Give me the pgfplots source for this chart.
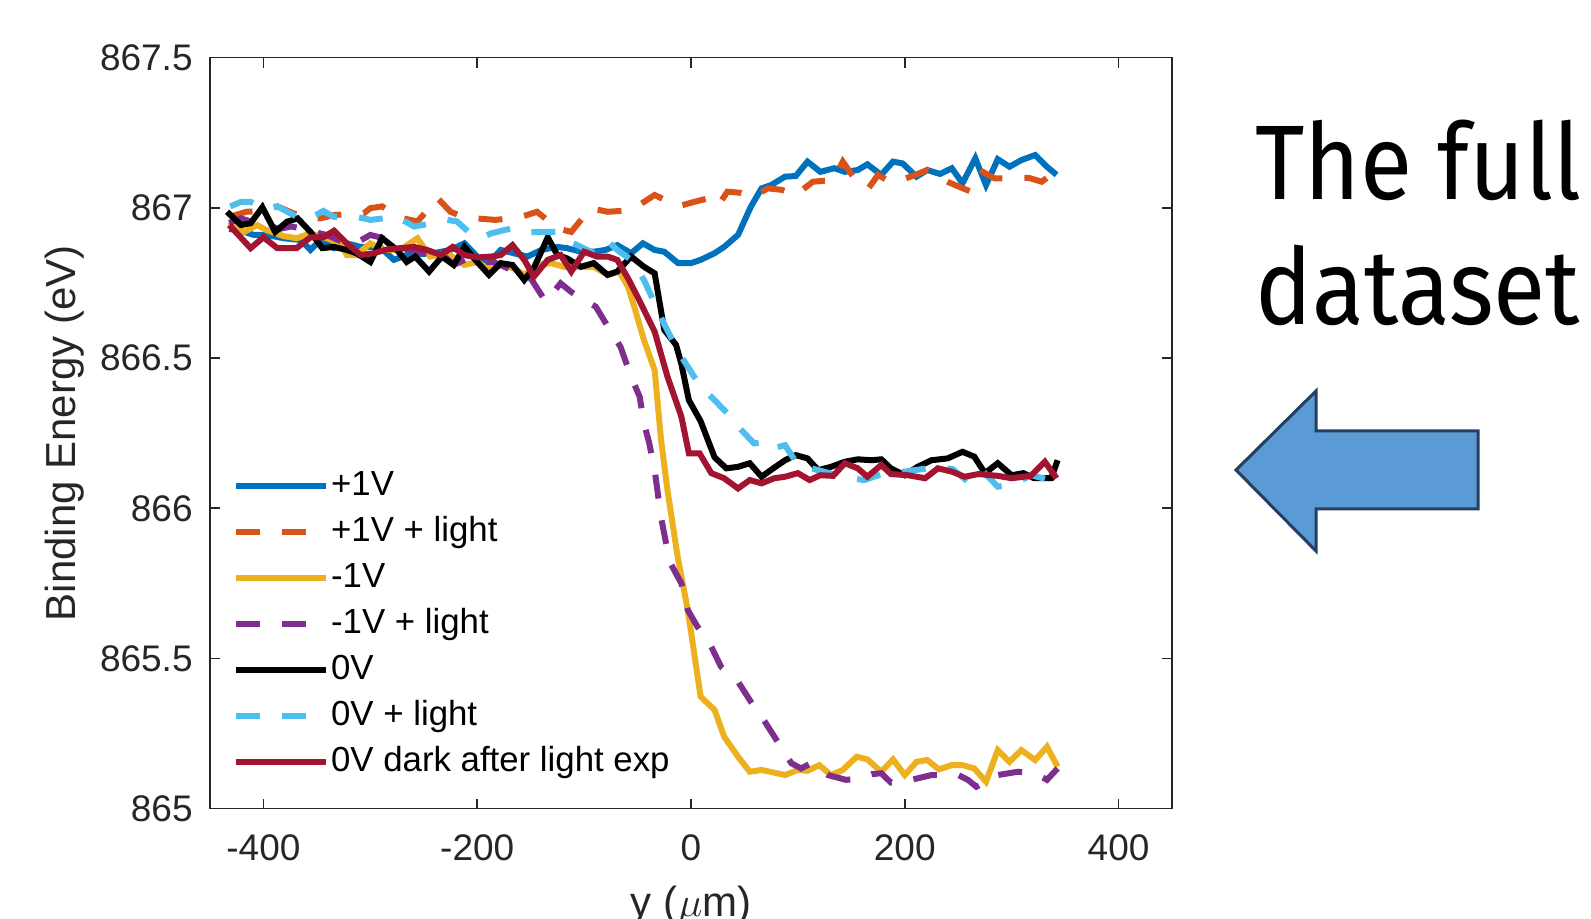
\documentclass[border=0pt]{standalone}
\usepackage{pgfplots}
\pgfplotsset{compat=1.18}
\usepackage{fontspec}
\setmainfont{Liberation Sans}
\newfontfamily\slidefont[FakeStretch=0.9]{Fira Sans}
\definecolor{c1}{HTML}{0072BD}
\definecolor{c2}{HTML}{D95319}
\definecolor{c3}{HTML}{EDB120}
\definecolor{c4}{HTML}{7E2F8E}
\definecolor{c5}{HTML}{000000}
\definecolor{c6}{HTML}{4DBEEE}
\definecolor{c7}{HTML}{A2142F}
\definecolor{axgray}{HTML}{262626}
\definecolor{arrowfill}{HTML}{5B9BD5}
\definecolor{arrowdraw}{HTML}{243F60}
\begin{document}
\begin{tikzpicture}
\path[use as bounding box] (0,0) rectangle (795.5pt,459.5pt);
\clip (0,0) rectangle (795.5pt,459.5pt);
\begin{axis}[
  at={(105pt,55.15pt)}, anchor=south west,
  scale only axis, width=481pt, height=375.5pt,
  xmin=-450, xmax=450, ymin=865, ymax=867.5,
  scaled ticks=false,
  xtick={-400,-200,0,200,400},
  xticklabels={-400,-200,0,200,400},
  ytick={865,865.5,866,866.5,867,867.5},
  yticklabels={865,865.5,866,866.5,867,867.5},
  tick align=inside, tick pos=both,
  major tick length=5pt,
  axis line style={draw=axgray, line width=0.8pt},
  every tick/.style={draw=axgray, line width=0.8pt},
  tick label style={font=\fontsize{18.5}{20}\selectfont, text=axgray},
  yticklabel style={inner sep=0pt, anchor=east, xshift=-8.5pt},
  xticklabel style={inner sep=0pt, anchor=north, yshift=-12.6pt},
  xlabel={y (\kern0.5pt$\mu$m)},
  ylabel={Binding Energy (eV)},
  label style={font=\fontsize{21}{24}\selectfont, text=axgray},
  xlabel style={at={(axis description cs:0.5,-0.143)}, anchor=base},
  ylabel style={at={(axis description cs:-0.151,0.5)}, anchor=center},
  legend style={at={(axis description cs:0.0236,0.451)}, anchor=north west,
    draw=none, fill=none, inner sep=0pt, row sep=7pt,
    font=\fontsize{17.4}{20}\selectfont,
    nodes={inner sep=0pt, text height=12.5pt, text depth=3.5pt},
    /tikz/every odd column/.append style={column sep=1pt}},
  legend cell align=left,
  legend image code/.code={\draw[#1] (0pt,0pt) -- (45pt,0pt);},
  every axis plot/.append style={line width=3pt, no markers},
  dashpat/.style={dash pattern=on 12pt off 11pt},
]
% +1V
\addplot[c1] table {
-432 866.93
-418 866.920
-409 866.910
-397 866.910
-381 866.899
-365 866.893
-356 866.860
-347 866.893
-334 866.866
-322 866.882
-309 866.870
-291 866.870
-278 866.827
-266 866.843
-241 866.849
-225 866.860
-212 866.882
-200 866.838
-191 866.810
-178 866.860
-166 866.849
-153 866.838
-140 866.860
-125 866.870
-116 866.866
-103 866.854
-91 866.854
-80 866.860
-69 866.876
-56 866.849
-45 866.882
-34 866.860
-25 866.854
-12 866.816
0 866.816
9 866.827
22 866.849
31 866.870
44 866.910
56 867.004
66 867.065
75 867.076
88 867.104
98 867.106
109 867.154
121 867.120
134 867.132
144 867.120
156 867.126
165 867.145
178 867.110
189 867.154
198 867.148
211 867.104
221 867.126
233 867.113
244 867.132
254 867.082
266 867.165
276 867.076
287 867.162
298 867.137
309 867.159
322 867.176
333 867.137
342 867.110
};
\addlegendentry{+1V}
% +1V + light
\addplot[c2, dashpat] table {
-432 866.970
-416 866.987
-400 866.990
-387 867.005
-372 866.982
-360 866.970
-347 866.965
-334 866.976
-320 866.980
-306 866.982
-300 866.999
-289 867.005
-278 866.980
-269 866.965
-256 866.955
-247 866.990
-237 867.032
-225 866.987
-213 866.970
-201 866.965
-183 866.960
-170 866.965
-159 866.970
-144 866.987
-125 866.932
-112 866.920
-94 866.999
-78 866.987
-65 866.990
-53 866.999
-34 867.043
-12 867.005
3 867.020
14 867.030
25 867.005
34 867.054
47 867.050
58 867.037
72 867.065
85 867.060
98 867.043
114 867.087
133 867.093
142 867.154
156 867.082
166 867.065
175 867.110
186 867.087
197 867.093
210 867.110
221 867.126
240 867.087
251 867.070
262 867.054
273 867.120
284 867.098
303 867.098
316 867.100
328 867.087
343 867.126
};
\addlegendentry{+1V + light}
% -1V
\addplot[c3] table {
-432 866.955
-418 866.920
-406 866.943
-397 866.926
-381 866.906
-369 866.899
-356 866.915
-341 866.899
-328 866.882
-322 866.843
-313 866.843
-300 866.882
-288 866.860
-272 866.860
-256 866.899
-244 866.838
-228 866.849
-212 866.810
-200 866.820
-191 866.799
-178 866.810
-166 866.799
-156 866.777
-144 866.810
-131 866.816
-119 866.804
-107 866.804
-91 866.804
-78 866.777
-67 866.788
-59 866.738
-53 866.670
-44 866.560
-34 866.460
-28 866.227
-22 866.060
-12.5 865.839
-3 865.661
9 865.373
22 865.329
31 865.240
44 865.173
55 865.123
66 865.129
88 865.112
100 865.129
109 865.126
120 865.145
131 865.112
142 865.129
155 865.173
165 865.164
178 865.123
189 865.164
200 865.112
211 865.156
221 865.162
232 865.131
244 865.145
254 865.145
265 865.134
276 865.090
287 865.195
298 865.156
309 865.195
322 865.162
333 865.206
343 865.140
};
\addlegendentry{-1V}
% -1V + light
\addplot[c4, dashpat] table {
-432 866.950
-421 866.965
-412 866.955
-397 866.943
-385 866.930
-374 866.938
-365 866.932
-353 866.920
-341 866.910
-328 866.890
-315 866.880
-300 866.910
-288 866.899
-275 866.870
-262 866.860
-250 866.850
-237 866.860
-222 866.810
-210 866.830
-198 866.820
-185 866.820
-172 866.800
-160 866.777
-150 866.766
-136 866.688
-122 866.749
-112 866.720
-103 866.699
-89 866.671
-75 866.588
-66 866.538
-56 866.438
-48 866.371
-44 866.283
-39 866.216
-34 866.127
-28 865.970
-20 865.822
-9 865.750
-3 865.661
6 865.606
19 865.539
28 865.473
44 865.423
56 865.356
69 865.290
81 865.223
94 865.151
103 865.134
112 865.151
128 865.112
145 865.096
157 865.100
169 865.115
178 865.118
187 865.087
196 865.090
206 865.096
225 865.112
250 865.112
259 865.096
267 865.073
287 865.112
306 865.123
322 865.118
333 865.096
343 865.134
};
\addlegendentry{-1V + light}
% 0V
\addplot[c5] table {
-434 866.987
-421 866.943
-412 866.949
-401 867.002
-389 866.920
-378 866.954
-368 866.965
-356 866.920
-345 866.866
-334 866.870
-322 866.860
-313 866.849
-300 866.820
-289 866.899
-275 866.860
-266 866.820
-258 866.838
-245 866.788
-233 866.838
-222 866.810
-212 866.870
-200 866.820
-189 866.777
-178 866.816
-167 866.810
-156 866.760
-147 866.800
-134 866.902
-125 866.843
-116 866.832
-103 866.804
-91 866.816
-78 866.777
-69 866.788
-56 866.838
-44 866.804
-34 866.782
-25 866.594
-14 866.544
-9 866.480
-2 866.360
9 866.290
22 866.170
33 866.133
44 866.138
55 866.150
66 866.105
77 866.133
88 866.160
98 866.177
109 866.166
119 866.127
131 866.138
144 866.155
156 866.163
169 866.160
178 866.163
187 866.133
200 866.110
212 866.138
225 866.160
240 866.166
254 866.188
265 866.172
275 866.117
287 866.150
300 866.110
311 866.117
321 866.100
337 866.100
343 866.160
};
\addlegendentry{0V}
% 0V + light
\addplot[c6, dashpat] table {
-431 867.005
-421 867.020
-412 867.020
-400 867.000
-387 867.005
-375 866.982
-363 866.960
-351 866.976
-344 866.990
-334 866.970
-313 866.970
-300 866.960
-288 866.965
-275 866.970
-259 866.938
-248 866.945
-237 866.955
-228 866.960
-219 866.955
-208 866.920
-198 866.899
-187 866.915
-176 866.925
-167 866.932
-155 866.918
-140 866.920
-125 866.920
-116 866.893
-103 866.870
-91 866.849
-79 866.893
-69 866.860
-56 866.827
-44 866.760
-34 866.682
-27 866.627
-19 866.571
-9 866.505
-3 866.471
9 866.405
22 866.360
34 866.316
47 866.261
59 866.216
72 866.220
77 866.200
88 866.210
100 866.144
119 866.127
137 866.110
150 866.100
162 866.094
181 866.117
200 866.122
215 866.130
231 866.138
245 866.130
259 866.089
272 866.127
287 866.072
300 866.078
318 866.110
342 866.089
};
\addlegendentry{0V + light}
% 0V dark after light exp
\addplot[c7] table {
-432 866.943
-412 866.866
-400 866.902
-387 866.866
-369 866.866
-356 866.902
-344 866.902
-334 866.924
-322 866.882
-309 866.843
-297 866.849
-284 866.862
-272 866.866
-259 866.870
-247 866.860
-234 866.843
-223 866.870
-212 866.843
-200 866.835
-187 866.838
-178 866.843
-167 866.876
-156 866.827
-147 866.771
-134 866.827
-122 866.843
-112 866.788
-100 866.854
-88 866.838
-78 866.838
-69 866.827
-59 866.766
-50 866.704
-34 866.588
-22 866.438
-9 866.305
-2 866.183
8 866.183
19 866.117
31 866.100
44 866.066
55 866.094
66 866.083
78 866.100
88 866.105
100 866.117
111 866.094
121 866.110
133 866.108
144 866.150
156 866.133
165 866.105
178 866.144
187 866.114
203 866.110
219 866.100
231 866.133
244 866.122
256 866.105
269 866.114
287 866.108
300 866.100
318 866.108
331 866.155
342 866.100
};
\addlegendentry{0V dark after light exp}
\end{axis}
\node[anchor=base west, inner sep=0pt, font=\slidefont\fontsize{53}{62}\selectfont] at (627.5pt,359.5pt) {The full};
\node[anchor=base west, inner sep=0pt, font=\slidefont\fontsize{53}{62}\selectfont] at (627.5pt,297pt) {dataset};
\draw[fill=arrowfill, draw=arrowdraw, line width=1.5pt, line join=miter]
  (618pt,224.5pt) -- (658pt,264pt) -- (658pt,244pt) -- (739pt,244pt) -- (739pt,205pt) -- (658pt,205pt) -- (658pt,184pt) -- cycle;
\end{tikzpicture}
\end{document}
